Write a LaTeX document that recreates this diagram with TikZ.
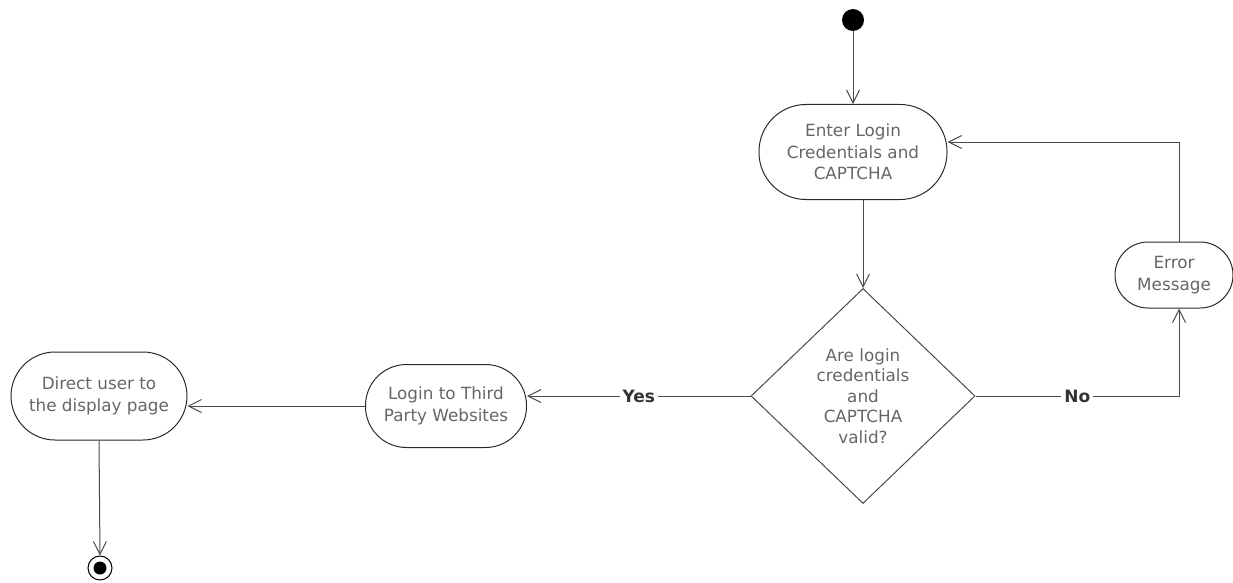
\documentclass[tikz,border=0pt]{standalone}
\usepackage{fontspec}
\setmainfont{DejaVu Sans}
\usetikzlibrary{arrows.meta,shapes.geometric}
\definecolor{txt}{HTML}{666666}
\definecolor{lbl}{HTML}{333333}
\definecolor{edge}{HTML}{4A4A4A}
\definecolor{bord}{HTML}{2A2A2A}
\tikzset{
  act/.style={draw=bord, line width=1pt, rectangle, align=center, text=txt,
    font=\fontsize{16.8}{21.5}\selectfont, inner sep=0pt},
  dec/.style={draw=edge, line width=1pt, diamond, align=center, text=txt,
    font=\fontsize{16.8}{20.4}\selectfont, inner sep=0pt, minimum width=224pt, minimum height=215pt},
  flow/.style={draw=edge, line width=1pt, -{Straight Barb[length=13pt,width=13pt]}},
  guard/.style={fill=white, text=lbl, font=\fontsize{17}{18}\selectfont\bfseries, inner sep=3pt}
}
\begin{document}
\begin{tikzpicture}[x=1pt,y=-1pt]
\useasboundingbox (0,0) rectangle (1233,583);
\node[circle, fill=black, minimum size=22pt, inner sep=0pt] (start) at (853,20) {};
\node[act, minimum width=188pt, minimum height=95pt, rounded corners=47pt] (enter) at (853,152)
  {Enter Login\\Credentials and\\CAPTCHA};
\node[dec] (valid) at (863,396) {Are login\\credentials\\and\\CAPTCHA\\valid?};
\node[act, minimum width=118pt, minimum height=66pt, rounded corners=33pt] (err) at (1174,275)
  {Error\\Message};
\node[act, minimum width=161pt, minimum height=83pt, rounded corners=41pt] (login) at (446,406)
  {Login to Third\\Party Websites};
\node[act, minimum width=176pt, minimum height=88pt, rounded corners=44pt] (direct) at (99,396)
  {Direct user to\\the display page};
\node[circle, draw=black, line width=1pt, minimum size=24pt, inner sep=0pt] (end) at (100,568) {};
\node[circle, fill=black, minimum size=13pt, inner sep=0pt] (endin) at (end.center) {};
\coordinate (nocorner) at (1179,396);
\coordinate (loopcorner) at (1179,142);

\draw[flow] (start) -- (start |- enter.north);
\draw[flow] (valid.north |- enter.south) -- (valid.north);
\draw[flow] (valid.west) -- node[guard] {Yes} (valid.west -| login.east);
\draw[flow] (login.west) -- (login.west -| direct.east);
\draw[flow] (direct.south) -- (end.north);
\draw[flow] (valid.east) -- node[guard] {No} (nocorner) -- (nocorner |- err.south);
\draw[flow] (nocorner |- err.north) -- (loopcorner) -- (loopcorner -| enter.east);
\end{tikzpicture}
\end{document}
